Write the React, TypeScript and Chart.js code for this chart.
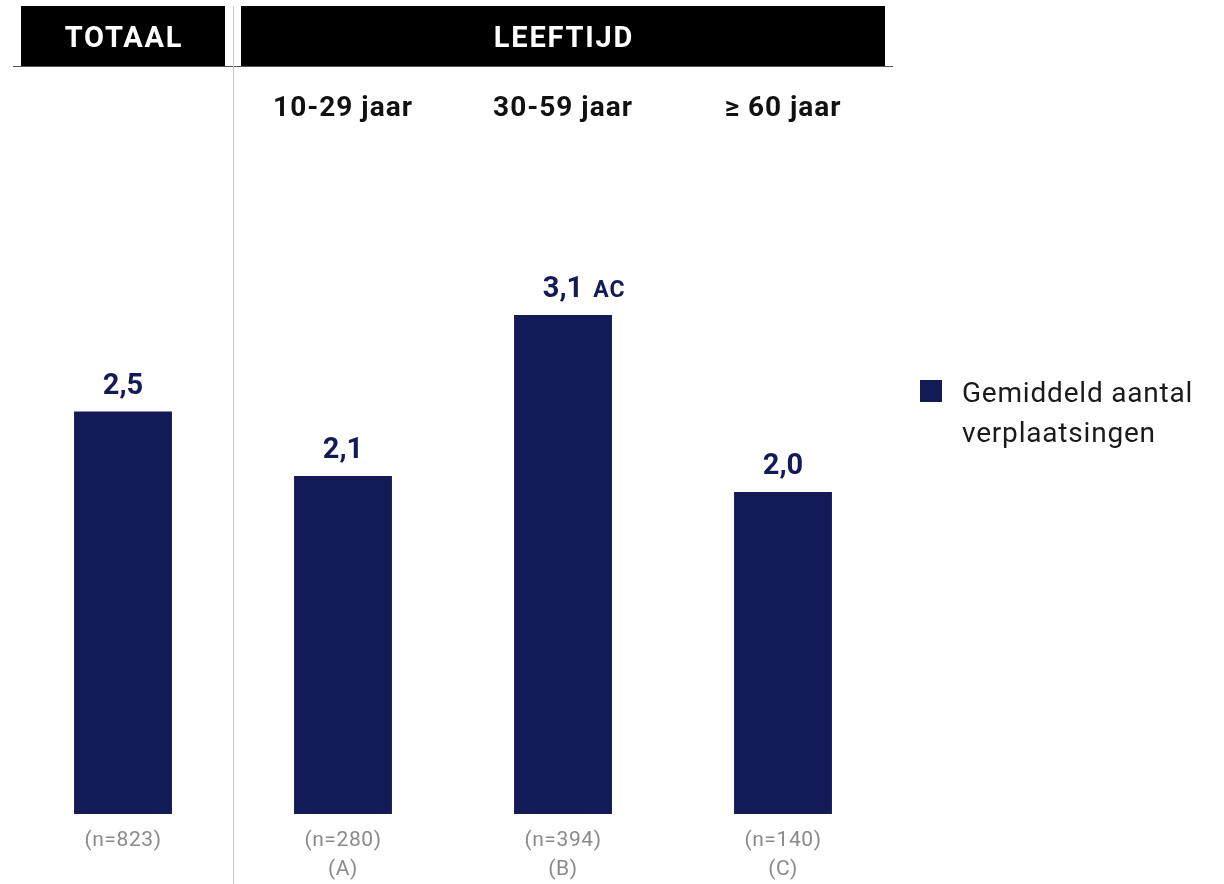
import React, { useEffect, useRef } from "react";
import { Chart, registerables } from "chart.js";

Chart.register(...registerables);

const categories = ["TOTAAL", "10-29 jaar", "30-59 jaar", "≥ 60 jaar"];
const columnLabels = ["", "10-29 jaar", "30-59 jaar", "≥ 60 jaar"];
const values = [2.5, 2.1, 3.1, 2.0];
const valueLabels = ["2,5", "2,1", "3,1", "2,0"];
const significance = ["", "", "AC", ""];
const sampleSizes = ["(n=823)", "(n=280)", "(n=394)", "(n=140)"];
const groupLetters = ["", "(A)", "(B)", "(C)"];
const seriesName = ["Gemiddeld aantal", "verplaatsingen"];
const headerGroups = [
  { title: "TOTAAL", from: 0, to: 0 },
  { title: "LEEFTIJD", from: 1, to: 3 },
];

const BAR_COLOR = "#131B57";
const FONT = "Roboto, 'Noto Sans', sans-serif";

function setSpacing(ctx: any, px: number) {
  if ("letterSpacing" in ctx) ctx.letterSpacing = `${px}px`;
}

const overlayPlugin = {
  id: "overlay",
  afterDatasetsDraw(chart: any) {
    const ctx = chart.ctx;
    const x = chart.scales.x;
    const area = chart.chartArea;
    const meta = chart.getDatasetMeta(0);
    const step = x.getPixelForValue(1) - x.getPixelForValue(0);
    ctx.save();

    // header boxes
    headerGroups.forEach((g) => {
      const left = x.getPixelForValue(g.from) - step / 2 + 8;
      const right = x.getPixelForValue(g.to) + step / 2 - 8;
      ctx.fillStyle = "#000";
      ctx.fillRect(left, 6, right - left, 60);
      ctx.fillStyle = "#fff";
      ctx.font = `bold 29px ${FONT}`;
      setSpacing(ctx, 1.8);
      ctx.textAlign = "center";
      ctx.textBaseline = "alphabetic";
      ctx.fillText(g.title, (left + right) / 2 + 1, 47);
    });

    // horizontal rule under headers
    ctx.strokeStyle = "#555";
    ctx.lineWidth = 1;
    ctx.beginPath();
    ctx.moveTo(area.left, 66.5);
    ctx.lineTo(area.right, 66.5);
    ctx.stroke();

    // vertical separator
    const sepX = Math.round(x.getPixelForValue(0) + step / 2) + 0.5;
    ctx.strokeStyle = "#c8c8c8";
    ctx.beginPath();
    ctx.moveTo(sepX, 6);
    ctx.lineTo(sepX, chart.height);
    ctx.stroke();

    // column labels
    ctx.fillStyle = "#111";
    ctx.font = `bold 28px ${FONT}`;
    setSpacing(ctx, 1);
    ctx.textAlign = "center";
    columnLabels.forEach((lbl, i) => {
      if (lbl) ctx.fillText(lbl, x.getPixelForValue(i), 116);
    });

    // value labels
    meta.data.forEach((bar: any, i: number) => {
      const cx = bar.x;
      const top = bar.y;
      ctx.fillStyle = BAR_COLOR;
      ctx.font = `bold 29px ${FONT}`;
      setSpacing(ctx, 0);
      ctx.textAlign = "center";
      ctx.fillText(valueLabels[i], cx, top - 18);
      if (significance[i]) {
        const w = ctx.measureText(valueLabels[i]).width;
        ctx.font = `bold 23px ${FONT}`;
        setSpacing(ctx, 1);
        ctx.textAlign = "left";
        ctx.fillText(significance[i], cx + w / 2 + 10, top - 18);
      }
    });

    // sample sizes
    ctx.fillStyle = "#8a8a8a";
    ctx.font = `21px ${FONT}`;
    setSpacing(ctx, 0.6);
    ctx.textAlign = "center";
    sampleSizes.forEach((s, i) => {
      ctx.fillText(s, x.getPixelForValue(i), 846);
      if (groupLetters[i]) ctx.fillText(groupLetters[i], x.getPixelForValue(i), 875);
    });

    // legend
    ctx.fillStyle = BAR_COLOR;
    ctx.fillRect(920, 380, 22, 22);
    ctx.fillStyle = "#1a1a1a";
    ctx.font = `28px ${FONT}`;
    setSpacing(ctx, 0.8);
    ctx.textAlign = "left";
    seriesName.forEach((line, i) => {
      ctx.fillText(line, 962, 402 + i * 40);
    });

    ctx.restore();
  },
};

export default function App() {
  const canvasRef = useRef<HTMLCanvasElement | null>(null);

  useEffect(() => {
    if (!canvasRef.current) return;
    const chart = new Chart(canvasRef.current, {
      type: "bar",
      data: {
        labels: categories,
        datasets: [
          {
            label: seriesName.join(" "),
            data: values,
            backgroundColor: BAR_COLOR,
            barPercentage: 0.445,
            categoryPercentage: 1,
          },
        ],
      },
      options: {
        responsive: false,
        animation: false,
        devicePixelRatio: 1,
        layout: { padding: { left: 13, right: 331, top: 170, bottom: 70 } },
        plugins: {
          legend: { display: false },
          tooltip: { enabled: false },
        },
        scales: {
          x: { display: false, grid: { display: false } },
          y: { display: false, min: 0, max: 4 },
        },
      },
      plugins: [overlayPlugin],
    });
    return () => chart.destroy();
  }, []);

  return (
    <div style={{ position: "absolute", left: 0, top: 0, width: 1224, height: 884, background: "#fff" }}>
      <canvas ref={canvasRef} width={1224} height={884} />
    </div>
  );
}
